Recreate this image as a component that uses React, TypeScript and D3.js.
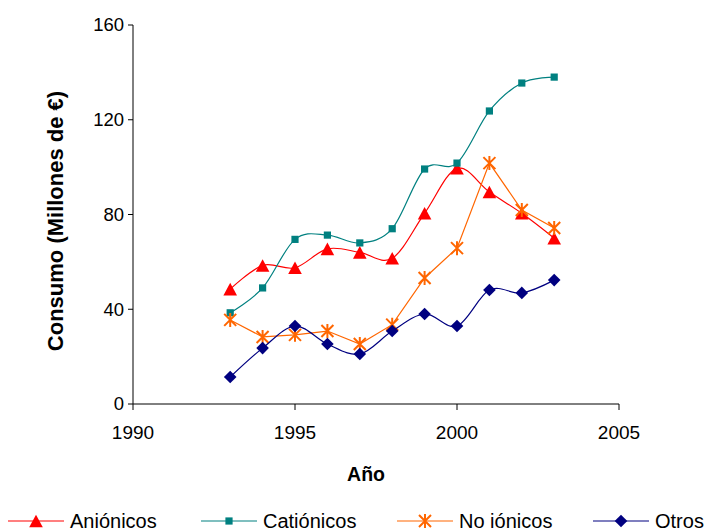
import React from 'react';
import * as d3 from 'd3';

const years = [1993, 1994, 1995, 1996, 1997, 1998, 1999, 2000, 2001, 2002, 2003];
const anionicos = [48.5, 58.5, 57.5, 65.5, 64, 61.5, 80.5, 99.5, 89.5, 80.5, 70];
const cationicos = [38.5, 49, 69.5, 71.3, 68, 74, 99.2, 101.7, 123.7, 135.5, 138];
const noIonicos = [35.5, 28.3, 29.2, 30.8, 25.3, 33.5, 53.2, 65.8, 101.7, 81.9, 74.3];
const otros = [11.4, 23.6, 32.9, 25.3, 21.1, 30.8, 38, 32.9, 48.1, 46.9, 52.3];
const seriesNames = ['Aniónicos', 'Catiónicos', 'No iónicos', 'Otros'];
const xTicks = [1990, 1995, 2000, 2005];
const yTicks = [0, 40, 80, 120, 160];

const W = 708;
const H = 531;
const FONT = '"Liberation Sans", Arial, sans-serif';

type Kind = 'tri' | 'sq' | 'star' | 'dia';

function Marker({ kind, x, y, color }: { kind: Kind; x: number; y: number; color: string }) {
  if (kind === 'tri') {
    const w = 6.8, h = 6.3;
    return <path d={`M${x},${y - h}L${x + w},${y + h}L${x - w},${y + h}Z`} fill={color} />;
  }
  if (kind === 'sq') {
    const s = 3.6;
    return <rect x={x - s} y={y - s} width={2 * s} height={2 * s} fill={color} />;
  }
  if (kind === 'dia') {
    const s = 6.3;
    return <path d={`M${x},${y - s}L${x + s},${y}L${x},${y + s}L${x - s},${y}Z`} fill={color} />;
  }
  const s = 6;
  return (
    <path
      d={`M${x - s},${y - s}L${x + s},${y + s}M${x - s},${y + s}L${x + s},${y - s}M${x},${y - s - 1}L${x},${y + s + 1}`}
      stroke={color}
      strokeWidth={2}
      fill="none"
    />
  );
}

export default function App() {
  const x = d3.scaleLinear().domain([1990, 2005]).range([133, 619]);
  const y = d3.scaleLinear().domain([0, 160]).range([404, 25]);

  const series = [
    { name: seriesNames[0], values: anionicos, color: '#FF0000', kind: 'tri' as Kind, smooth: true },
    { name: seriesNames[1], values: cationicos, color: '#008080', kind: 'sq' as Kind, smooth: true },
    { name: seriesNames[2], values: noIonicos, color: '#FF6600', kind: 'star' as Kind, smooth: false },
    { name: seriesNames[3], values: otros, color: '#000080', kind: 'dia' as Kind, smooth: true },
  ];

  const legendTextX = [70, 263, 459, 655];
  const legendY = 521;

  return (
    <svg width={W} height={H} style={{ position: 'absolute', left: 0, top: 0, background: '#fff' }} fontFamily={FONT}>
      {/* axes */}
      <line x1={x(1990)} x2={x(1990)} y1={y(0)} y2={y(160)} stroke="#000" strokeWidth={1} />
      <line x1={x(1990)} x2={x(2005)} y1={y(0)} y2={y(0)} stroke="#000" strokeWidth={1} />
      {yTicks.map((t) => (
        <g key={'y' + t}>
          <line x1={x(1990) - 5} x2={x(1990)} y1={y(t)} y2={y(t)} stroke="#000" />
          <text x={x(1990) - 9} y={y(t)} dy="0.35em" textAnchor="end" fontSize={18.5}>
            {t}
          </text>
        </g>
      ))}
      {xTicks.map((t) => (
        <g key={'x' + t}>
          <line x1={x(t)} x2={x(t)} y1={y(0)} y2={y(0) + 6} stroke="#000" />
          <text x={x(t)} y={y(0) + 35} textAnchor="middle" fontSize={19}>
            {t}
          </text>
        </g>
      ))}
      <text x={366} y={481} textAnchor="middle" fontSize={19.5} fontWeight="bold">
        Año
      </text>
      <text
        transform={`translate(63,221) rotate(-90)`}
        textAnchor="middle"
        fontSize={22}
        fontWeight="bold"
      >
        Consumo (Millones de €)
      </text>

      {/* series */}
      {series.map((s) => {
        const pts = years.map((yr, i) => [x(yr), y(s.values[i])] as [number, number]);
        const line = d3
          .line()
          .curve(s.smooth ? d3.curveCardinal.tension(0) : d3.curveLinear)(pts) as string;
        return (
          <g key={s.name}>
            <path d={line} fill="none" stroke={s.color} strokeWidth={1.2} />
            {pts.map((p, i) => (
              <Marker key={i} kind={s.kind} x={p[0]} y={p[1]} color={s.color} />
            ))}
          </g>
        );
      })}

      {/* legend */}
      {series.map((s, i) => {
        const tx = legendTextX[i];
        const lx = tx - 62;
        return (
          <g key={'lg' + s.name}>
            <line x1={lx} x2={lx + 56} y1={legendY} y2={legendY} stroke={s.color} strokeWidth={1.2} />
            <Marker kind={s.kind} x={lx + 28} y={legendY} color={s.color} />
            <text x={tx} y={legendY} dy="0.35em" fontSize={20}>
              {s.name}
            </text>
          </g>
        );
      })}
    </svg>
  );
}
